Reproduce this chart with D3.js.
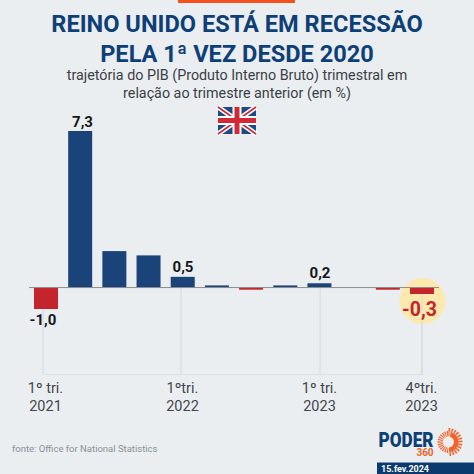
<!DOCTYPE html>
<html><head><meta charset="utf-8">
<script src="https://cdn.jsdelivr.net/npm/d3@7"></script>
<style>html,body{margin:0;padding:0;background:#ebeef1}svg{display:block}text{font-family:Roboto,sans-serif}</style>
</head><body><svg id="c" width="474" height="474"></svg>
<script>
const quarters=["1T21","2T21","3T21","4T21","1T22","2T22","3T22","4T22","1T23","2T23","3T23","4T23"];
const values=[-1.0,7.3,1.7,1.5,0.5,0.1,-0.1,0.1,0.2,0,-0.1,-0.3];
const shownLabels=["-1,0","7,3",null,null,"0,5",null,null,null,"0,2",null,null,"-0,3"];
const tickQuarters=["1T21","1T22","1T23","4T23"];
const tickLines=[["1º tri.","2021"],["1ºtri.","2022"],["1º tri.","2023"],["4ºtri.","2023"]];
const titleLines=["REINO UNIDO ESTÁ EM RECESSÃO","PELA 1ª VEZ DESDE 2020"];
const subtitleLines=["trajetória do PIB (Produto Interno Bruto) trimestral em","relação ao trimestre anterior (em %)"];
const BLUE="#1a4379",RED="#c4242b",NAVY="#0d4076";
const svg=d3.select("#c");
svg.append("rect").attr("width",474).attr("height",474).attr("fill","#ebeef1");
svg.append("rect").attr("x",178).attr("y",0).attr("width",117).attr("height",3).attr("fill","#f4511e");
titleLines.forEach((t,i)=>svg.append("text").attr("x",237).attr("y",32+i*29.5).attr("text-anchor","middle")
 .attr("font-size",23.6).attr("font-weight",700).attr("fill",NAVY).text(t));
subtitleLines.forEach((t,i)=>svg.append("text").attr("x",237).attr("y",79.5+i*18).attr("text-anchor","middle")
 .attr("font-size",14.3).attr("fill","#3a3f45").text(t));
// flag
const f=svg.append("g").attr("transform","translate(218,107)");
const fw=38,fh=27;
f.append("rect").attr("width",fw).attr("height",fh).attr("fill","#1f4a86");
f.append("path").attr("d",`M0,0L${fw},${fh}M${fw},0L0,${fh}`).attr("stroke","#fff").attr("stroke-width",5);
f.append("path").attr("d",`M0,0L${fw},${fh}M${fw},0L0,${fh}`).attr("stroke","#cf2a35").attr("stroke-width",1.6);
f.append("path").attr("d",`M${fw/2},0V${fh}M0,${fh/2}H${fw}`).attr("stroke","#fff").attr("stroke-width",9);
f.append("path").attr("d",`M${fw/2},0V${fh}M0,${fh/2}H${fw}`).attr("stroke","#cf2a35").attr("stroke-width",5);
// scales
const xr=d3.scalePoint().domain(quarters).range([46,422]);
const y=d3.scaleLinear().domain([-1,7.3]).range([309,131]);
const bw=24;
// grid
const gridX=[43,181,320,422];
const gridBottom=374.5;
svg.selectAll("line.grid").data(tickQuarters).join("line").attr("class","grid")
 .attr("x1",(d,i)=>gridX[i]).attr("x2",(d,i)=>gridX[i]).attr("y1",y(0)).attr("y2",gridBottom)
 .attr("stroke","#d5d8dc").attr("stroke-width",1);
svg.append("line").attr("x1",43).attr("x2",422).attr("y1",gridBottom).attr("y2",gridBottom).attr("stroke","#dcdfe3");
// highlight
svg.append("circle").attr("cx",422.5).attr("cy",301).attr("r",23).attr("fill","#fde9ad");
svg.append("line").attr("x1",422).attr("x2",422).attr("y1",y(0)).attr("y2",gridBottom).attr("stroke","#d5d8dc");
// bars
svg.selectAll("rect.bar").data(quarters).join("rect").attr("class","bar")
 .attr("x",d=>xr(d)-bw/2).attr("width",bw)
 .attr("y",(d,i)=>Math.min(y(values[i]),y(0)))
 .attr("height",(d,i)=>Math.abs(y(values[i])-y(0)))
 .attr("fill",(d,i)=>values[i]<0?RED:BLUE);
svg.append("line").attr("x1",29).attr("x2",439).attr("y1",y(0)).attr("y2",y(0)).attr("stroke","#8b8d8f").attr("stroke-width",1);
// value labels
const labelY={"-1,0":325,"7,3":126.5,"0,5":272,"0,2":277.5,"-0,3":316};
const labelX={"-1,0":43,"7,3":82.5,"0,5":183,"0,2":320,"-0,3":419.5};
shownLabels.forEach((l,i)=>{ if(!l)return;
 svg.append("text").attr("x",labelX[l]).attr("y",labelY[l]).attr("text-anchor","middle")
  .attr("font-size",l==="-0,3"?19.5:15).attr("font-weight",700)
  .attr("fill",l==="-0,3"?RED:"#14171a").text(l);
});
// ticks
const tickX=[45.5,182.5,319.5,421.5];
tickLines.forEach((ls,i)=>ls.forEach((t,j)=>svg.append("text").attr("x",tickX[i]).attr("y",393+j*18).attr("text-anchor","middle")
 .attr("font-size",14.5).attr("fill","#41464c").text(t)));
svg.append("text").attr("x",12).attr("y",451.5).attr("font-size",9.5).attr("fill","#8a9096").text("fonte: Office for National Statistics");
// logo
svg.append("text").attr("x",378.5).attr("y",447).attr("font-size",20.5).attr("font-weight",900).attr("fill",NAVY).attr("textLength",55).attr("lengthAdjust","spacingAndGlyphs").text("PODER");
svg.append("text").attr("x",425).attr("y",456).attr("font-size",10).attr("font-weight",700).attr("text-anchor","middle").attr("fill","#e8652a").text("360");
const rays=d3.range(0,360,14);
const rayArc=d3.arc();
const sun=svg.append("g").attr("transform","translate(448.5,442)");
sun.selectAll("path").data(rays).join("path").attr("d",d=>{
 const a=d*Math.PI/180;
 const big=d>=180&&d<=350;
 return rayArc({innerRadius:5.5,outerRadius:big?11:14,startAngle:a,endAngle:a+0.13});
}).attr("fill","#f4622a");
sun.append("path").attr("d",d3.arc()({innerRadius:5.5,outerRadius:10,startAngle:0.3,endAngle:3.0})).attr("fill","#f4622a");
svg.append("rect").attr("x",377).attr("y",462.5).attr("width",97).attr("height",11.5).attr("fill","#0b3a6e");
svg.append("text").attr("x",381).attr("y",471.5).attr("font-size",9).attr("font-weight",700).attr("fill","#fff").text("15.fev.2024");
</script></body></html>
